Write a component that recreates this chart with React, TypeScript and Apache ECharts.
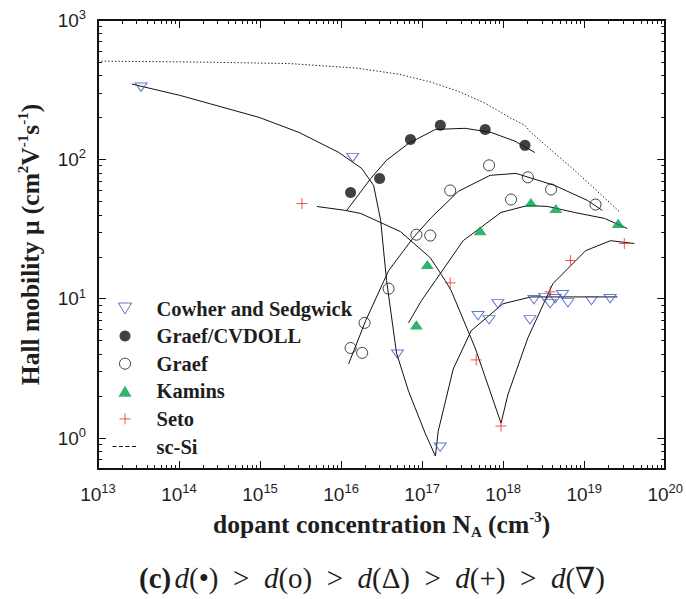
import React, { useEffect, useRef } from "react";
import * as echarts from "echarts";

// ---------- data (N in cm^-3, mobility in cm^2 V^-1 s^-1) ----------
const cowherN = [3.4e13, 1.39e16, 4.97e16, 1.67e17, 4.9e17, 6.7e17, 8.6e17, 2.14e18, 2.4e18, 3.25e18, 3.8e18, 4.4e18, 5.4e18, 6.3e18, 1.23e19, 2.09e19];
const cowherMu = [330, 103, 4.0, 0.86, 7.55, 7.06, 9.2, 7.06, 9.84, 10.2, 9.2, 10.0, 10.7, 9.35, 9.7, 10.0];

const cvdollN = [1.31e16, 2.99e16, 7.18e16, 1.68e17, 6.0e17, 1.86e18];
const cvdollMu = [57.9, 73, 139, 176, 164, 126];

const graefN = [1.31e16, 1.82e16, 1.95e16, 3.86e16, 8.5e16, 1.26e17, 2.22e17, 6.7e17, 1.25e18, 2.02e18, 3.9e18, 1.38e19];
const graefMu = [4.43, 4.09, 6.71, 11.8, 28.8, 28.4, 59.8, 90.6, 51.5, 74.3, 60.8, 47.4];

const kaminsN = [8.5e16, 1.16e17, 5.2e17, 2.2e18, 4.47e18, 2.63e19];
const kaminsMu = [6.5, 17.6, 30.8, 49, 44.4, 34.7];

const setoN = [3.29e15, 2.22e17, 4.65e17, 9.4e17, 3.8e18, 6.8e18, 3.13e19];
const setoMu = [48.2, 13.0, 3.64, 1.22, 11.2, 18.8, 24.9];

const scSiN = [1e13, 1.79e14, 2.28e15, 1.52e16, 5.1e16, 1.3e17, 2.79e17, 5.99e17, 1.25e18, 1.85e18, 2.2e18, 7.62e18, 2.8e19];
const scSiMu = [507, 499, 487, 452, 409, 358, 308, 253, 197, 176, 156, 83.4, 41.6];

// fitted curves
const fitCowherN = [2.62e13, 1.02e14, 9.75e14, 3.03e15, 9.4e15, 1.8e16, 2.52e16, 3.08e16, 3.64e16, 4.83e16, 6.78e16, 1.1e17, 1.46e17, 1.58e17, 2.42e17, 4.03e17, 9.96e17, 2.2e18, 2.57e19];
const fitCowherMu = [347, 288, 200, 156, 112, 86, 65, 36.4, 13.5, 4.08, 2.18, 1.07, 0.743, 1.12, 3.13, 5.89, 9.2, 10.3, 10.3];

const fitCvdollN = [1.17e16, 2.32e16, 3.64e16, 6.78e16, 1.46e17, 3.4e17, 7.1e17, 1.4e18, 2.46e18];
const fitCvdollMu = [42.9, 72.9, 98.5, 130, 164, 167, 156, 135, 112];

const fitGraefN = [1.24e16, 2.01e16, 3.86e16, 7.82e16, 1.3e17, 2.79e17, 6.9e17, 1.44e18, 4.33e18, 1.1e19, 1.68e19];
const fitGraefMu = [3.41, 6.95, 15.9, 27.5, 38.3, 58.9, 76.8, 79.3, 65, 50.7, 43];

const fitKaminsN = [6.8e16, 9.8e16, 1.46e17, 3.21e17, 9.4e17, 2.02e18, 3.56e18, 7.6e18, 1.78e19, 3.41e19];
const fitKaminsMu = [6.71, 9.68, 13.5, 26.1, 41.6, 46.7, 45.9, 41.6, 37.7, 31.9];

const fitSetoN = [5.04e15, 1.14e16, 1.75e16, 5.41e16, 1.26e17, 1.93e17, 2.29e17, 4.51e17, 9.42e17, 1.15e18, 2.02e18, 4.1e18, 1.04e19, 2.11e19, 4.16e19];
const fitSetoMu = [45.9, 43, 40.9, 30.3, 19.7, 13.5, 11.4, 4.44, 1.28, 2.07, 5.24, 12.8, 22.1, 26.1, 24.9];

// axes
const xMinVal = 1e13;
const xMaxVal = 1e20;
const yMinVal = 0.6;
const yMaxVal = 1000;
const xDecades = [13, 14, 15, 16, 17, 18, 19, 20];
const yDecades = [0, 1, 2, 3];

const legendNames = ["Cowher and Sedgwick", "Graef/CVDOLL", "Graef", "Kamins", "Seto", "sc-Si"];

// ---------- helpers ----------
const lg = Math.log10;
const pts = (xs: number[], ys: number[]) => xs.map((x, i) => [lg(x), lg(ys[i])]);

function minorLogs(lo: number, hi: number) {
  const out: number[] = [];
  for (let n = Math.floor(lo) - 1; n <= Math.ceil(hi); n++) {
    for (let k = 2; k <= 9; k++) {
      const v = n + lg(k);
      if (v >= lo - 1e-9 && v <= hi + 1e-9) out.push(v);
    }
  }
  return out;
}

const BLUE = "#3a58b8";
const GREEN = "#00a04b";
const RED = "#ee2a2a";
const INK = "#1e1e1e";
const SERIF = "'Liberation Serif', 'DejaVu Serif', serif";
const SANS = "'Liberation Sans', Arial, sans-serif";

const downTri = "path://M0,0L12,0L6,10Z";
const upTri = "path://M6,0L12,10L0,10Z";
const plus = "path://M5,0L5,10M0,5L10,5";

export default function App() {
  const ref = useRef<HTMLDivElement>(null);

  useEffect(() => {
    if (!ref.current) return;
    const chart = echarts.init(ref.current, undefined, { renderer: "svg" });

    const xLo = lg(xMinVal), xHi = lg(xMaxVal), yLo = lg(yMinVal), yHi = lg(yMaxVal);
    const xMinor = minorLogs(xLo, xHi);
    const yMinor = minorLogs(yLo, yHi);

    const labelRich = {
      b: { fontFamily: SANS, fontSize: 19, color: INK, lineHeight: 24 },
      s: { fontFamily: SANS, fontSize: 13, color: INK, lineHeight: 10, verticalAlign: "top" },
    };
    const fmt = (v: number) => `{b|10}{s|${Math.round(v)}}`;
    const frame = { onZero: false, lineStyle: { color: "#111", width: 2 } };
    const tickStyle = { color: "#111", width: 1 };

    const baseX = { type: "value", min: xLo, max: xHi, splitLine: { show: false } };
    const baseY = { type: "value", min: yLo, max: yHi, splitLine: { show: false } };

    const titleRich = {
      t: { fontFamily: SERIF, fontWeight: "bold", fontSize: 25.5, color: INK, lineHeight: 30 },
      sup: { fontFamily: SERIF, fontWeight: "bold", fontSize: 15, color: INK, lineHeight: 15, verticalAlign: "top" },
      sub: { fontFamily: SERIF, fontWeight: "bold", fontSize: 15, color: INK, lineHeight: 12, verticalAlign: "bottom" },
    };

    const fitLine = (name: string, xs: number[], ys: number[]) => ({
      name,
      type: "line",
      data: pts(xs, ys),
      symbol: "none",
      silent: true,
      lineStyle: { color: "#111", width: 1 },
      z: 2,
    });

    const option = {
      animation: false,
      backgroundColor: "#fff",
      grid: { left: 98, right: 18, top: 20, bottom: 130, containLabel: false },
      xAxis: [
        {
          ...baseX,
          position: "bottom",
          axisLine: frame,
          axisTick: { inside: true, length: 8, customValues: xDecades, lineStyle: tickStyle },
          axisLabel: { customValues: xDecades, formatter: fmt, rich: labelRich, margin: 13 },
          name: "{t|dopant concentration N}{sub|A}{t| (cm}{sup|-3}{t|)}",
          nameLocation: "middle",
          nameGap: 40,
          nameTextStyle: { rich: titleRich },
        },
        {
          ...baseX,
          position: "bottom",
          axisLine: { show: false, onZero: false },
          axisTick: { inside: true, length: 4, customValues: xMinor, lineStyle: tickStyle },
          axisLabel: { show: false },
        },
        {
          ...baseX,
          position: "top",
          axisLine: frame,
          axisTick: { inside: true, length: 8, customValues: xDecades, lineStyle: tickStyle },
          axisLabel: { show: false },
        },
        {
          ...baseX,
          position: "top",
          axisLine: { show: false, onZero: false },
          axisTick: { inside: true, length: 4, customValues: xMinor, lineStyle: tickStyle },
          axisLabel: { show: false },
        },
      ],
      yAxis: [
        {
          ...baseY,
          position: "left",
          axisLine: frame,
          axisTick: { inside: true, length: 8, customValues: yDecades, lineStyle: tickStyle },
          axisLabel: { customValues: yDecades, formatter: fmt, rich: labelRich, margin: 12 },
          name: "{t|Hall mobility \u03bc (cm}{sup|2}{t|V}{sup|-1}{t|s}{sup|-1}{t|)}",
          nameLocation: "middle",
          nameRotate: 90,
          nameGap: 53,
          nameTextStyle: { rich: titleRich },
        },
        {
          ...baseY,
          position: "left",
          axisLine: { show: false, onZero: false },
          axisTick: { inside: true, length: 4, customValues: yMinor, lineStyle: tickStyle },
          axisLabel: { show: false },
        },
        {
          ...baseY,
          position: "right",
          axisLine: frame,
          axisTick: { inside: true, length: 8, customValues: yDecades, lineStyle: tickStyle },
          axisLabel: { show: false },
        },
        {
          ...baseY,
          position: "right",
          axisLine: { show: false, onZero: false },
          axisTick: { inside: true, length: 4, customValues: yMinor, lineStyle: tickStyle },
          axisLabel: { show: false },
        },
      ],
      legend: {
        orient: "vertical",
        left: 112,
        top: 298,
        padding: 0,
        itemWidth: 25,
        itemHeight: 11,
        itemGap: 6.6,
        selectedMode: false,
        textStyle: { fontFamily: SERIF, fontWeight: "bold", fontSize: 20.5, color: INK, lineHeight: 20, padding: [0, 0, 0, 14] },
        data: [
          { name: legendNames[0], itemStyle: { color: "rgba(0,0,0,0)", borderColor: BLUE, borderWidth: 1 } },
          { name: legendNames[1], itemStyle: { color: "#111", borderWidth: 0 } },
          { name: legendNames[2], itemStyle: { color: "rgba(0,0,0,0)", borderColor: "#111", borderWidth: 1 } },
          { name: legendNames[3], itemStyle: { color: GREEN, borderWidth: 0 } },
          { name: legendNames[4], itemStyle: { color: "rgba(0,0,0,0)", borderColor: RED, borderWidth: 1 } },
          {
            name: legendNames[5],
            itemStyle: { color: "rgba(0,0,0,0)", borderColor: "rgba(0,0,0,0)", borderWidth: 0, opacity: 0 },
            lineStyle: { color: "#111", width: 1, type: [4, 2.5] },
          },
        ],
      },
      series: [
        fitLine("fitCowher", fitCowherN, fitCowherMu),
        fitLine("fitCvdoll", fitCvdollN, fitCvdollMu),
        fitLine("fitGraef", fitGraefN, fitGraefMu),
        fitLine("fitKamins", fitKaminsN, fitKaminsMu),
        fitLine("fitSeto", fitSetoN, fitSetoMu),
        {
          name: legendNames[5],
          type: "line",
          data: pts(scSiN, scSiMu),
          symbol: "none",
          itemStyle: { color: "#222" },
          lineStyle: { color: "#222", width: 1, type: [1.4, 2] },
          z: 2,
        },
        {
          name: legendNames[0],
          type: "scatter",
          data: pts(cowherN, cowherMu),
          symbol: downTri,
          symbolSize: [12, 10],
          symbolKeepAspect: true,
          itemStyle: { color: "rgba(0,0,0,0)", borderColor: BLUE, borderWidth: 1 },
          z: 3,
        },
        {
          name: legendNames[1],
          type: "scatter",
          data: pts(cvdollN, cvdollMu),
          symbol: "circle",
          symbolSize: 11,
          symbolKeepAspect: true,
          itemStyle: { color: "#111" },
          z: 3,
        },
        {
          name: legendNames[2],
          type: "scatter",
          data: pts(graefN, graefMu),
          symbol: "circle",
          symbolSize: 11,
          symbolKeepAspect: true,
          itemStyle: { color: "rgba(0,0,0,0)", borderColor: "#111", borderWidth: 1 },
          z: 3,
        },
        {
          name: legendNames[3],
          type: "scatter",
          data: pts(kaminsN, kaminsMu),
          symbol: upTri,
          symbolSize: [13, 11],
          symbolKeepAspect: true,
          itemStyle: { color: GREEN },
          z: 3,
        },
        {
          name: legendNames[4],
          type: "scatter",
          data: pts(setoN, setoMu),
          symbol: plus,
          symbolSize: 11,
          symbolKeepAspect: true,
          itemStyle: { color: "rgba(0,0,0,0)", borderColor: RED, borderWidth: 1 },
          z: 3,
        },
      ],
      graphic: [
        {
          type: "text",
          x: 372,
          y: 578,
          style: {
            text:
              "{b|(c)} {i|d}{n|(\u2022)  >  }{i|d}{n|(o)  >  }{i|d}{n|(\u0394)  >  }{i|d}{n|(+)  >  }{i|d}{n|(\u2207)}",
            align: "center",
            verticalAlign: "middle",
            rich: {
              b: { fontFamily: SERIF, fontWeight: "bold", fontSize: 29, fill: INK },
              i: { fontFamily: SERIF, fontStyle: "italic", fontSize: 29, fill: INK },
              n: { fontFamily: SERIF, fontSize: 29, fill: INK },
            },
          },
        },
      ],
    };

    chart.setOption(option as any);
    return () => chart.dispose();
  }, []);

  return (
    <div
      ref={ref}
      style={{ position: "fixed", left: 0, top: 0, width: 686, height: 599, background: "#fff" }}
    />
  );
}
